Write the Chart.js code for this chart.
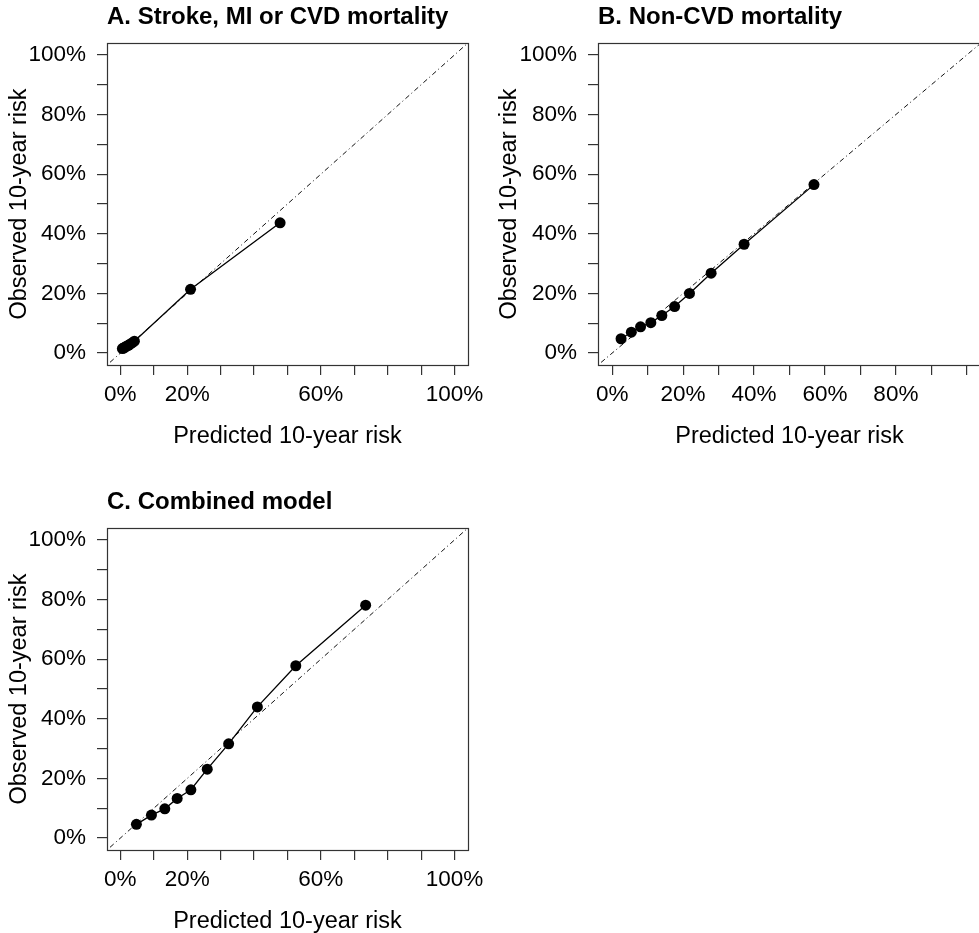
<!DOCTYPE html>
<html>
<head>
<meta charset="utf-8">
<script src="https://cdn.jsdelivr.net/npm/chart.js@4"></script>
<style>
  html, body { margin: 0; padding: 0; background: #fff; width: 979px; height: 933px; overflow: hidden; }
  .panel { position: absolute; }
  canvas { display: block; }
</style>
</head>
<body>
<div class="panel" style="left:0px;top:0px"><canvas id="chartA" width="490" height="470" style="width:490px;height:470px"></canvas></div>
<div class="panel" style="left:490px;top:0px"><canvas id="chartB" width="520" height="470" style="width:520px;height:470px"></canvas></div>
<div class="panel" style="left:0px;top:465px"><canvas id="chartC" width="490" height="470" style="width:490px;height:470px"></canvas></div>
<script>
// Calibration: predicted vs observed 10-year risk (%) by risk decile
const tickValues = [0, 10, 20, 30, 40, 50, 60, 70, 80, 90, 100];
const yLabelled = [0, 20, 40, 60, 80, 100];
const xLabelledAC = [0, 20, 60, 100];
const xLabelledB = [0, 20, 40, 60, 80];
const axisRange = [-4, 104];

const titleA = 'A. Stroke, MI or CVD mortality';
const predictedA = [0.6, 1.0, 1.4, 1.9, 2.4, 2.9, 3.5, 4.2, 21.0, 47.8];
const observedA  = [1.5, 1.7, 2.0, 2.3, 2.6, 3.0, 3.4, 4.0, 21.4, 43.7];

const titleB = 'B. Non-CVD mortality';
const predictedB = [2.5, 5.4, 8.0, 10.9, 14.0, 17.6, 21.8, 27.9, 37.2, 56.9];
const observedB  = [4.8, 7.0, 8.8, 10.2, 12.6, 15.6, 20.0, 26.8, 36.5, 56.5];

const titleC = 'C. Combined model';
const predictedC = [4.8, 9.3, 13.3, 17.0, 21.1, 26.0, 32.4, 41.0, 52.5, 73.4];
const observedC  = [4.6, 7.7, 9.8, 13.3, 16.2, 23.1, 31.6, 44.0, 57.8, 78.1];

const xTitle = 'Predicted 10-year risk';
const yTitle = 'Observed 10-year risk';

const FONT = '"Liberation Sans", Arial, Helvetica, sans-serif';

// Plot frame and bold panel heading
const framePlugin = {
  id: 'panelFrame',
  afterDraw(chart, args, opts) {
    const { ctx, chartArea: a } = chart;
    ctx.save();
    ctx.strokeStyle = '#333';
    ctx.lineWidth = 1.2;
    ctx.strokeRect(Math.round(a.left) + 0.5, Math.round(a.top) + 0.5,
                   Math.round(a.right - a.left), Math.round(a.bottom - a.top));
    ctx.fillStyle = '#000';
    ctx.font = 'bold 24px ' + FONT;
    ctx.textAlign = 'left';
    ctx.textBaseline = 'alphabetic';
    ctx.fillText(opts.text, a.left, a.top - 19);
    ctx.restore();
  }
};

function makePanel(id, title, pred, obs, xLabelled, box) {
  return new Chart(document.getElementById(id), {
    type: 'scatter',
    data: {
      datasets: [
        {
          type: 'line',
          data: axisRange.map(v => ({ x: v, y: v })),
          borderColor: '#111', borderWidth: 1, borderDash: [1, 3, 5, 3],
          pointRadius: 0, fill: false, order: 2
        },
        {
          type: 'line',
          data: pred.map((p, i) => ({ x: p, y: obs[i] })),
          borderColor: '#000', borderWidth: 1.3, tension: 0, fill: false,
          pointRadius: 5.5, pointBackgroundColor: '#000', pointBorderWidth: 0,
          order: 1
        }
      ]
    },
    options: {
      responsive: false,
      animation: false,
      events: [],
      layout: { padding: { left: 0, top: box.top, right: box.right, bottom: box.bottom } },
      plugins: {
        legend: { display: false },
        tooltip: { enabled: false },
        panelFrame: { text: title }
      },
      scales: {
        x: {
          type: 'linear', min: axisRange[0], max: axisRange[1],
          afterBuildTicks: s => { s.ticks = tickValues.map(v => ({ value: v })); },
          afterFit: s => { s.height = 86; },
          ticks: {
            autoSkip: false, maxRotation: 0, minRotation: 0, padding: 6, color: '#000',
            font: { family: FONT, size: 22.5 },
            callback: v => xLabelled.includes(v) ? v + '%' : ''
          },
          grid: { drawOnChartArea: false, drawTicks: true, tickLength: 10, color: '#333', lineWidth: 1.2 },
          border: { display: false },
          title: { display: true, text: xTitle, color: '#000', font: { family: FONT, size: 23.5 }, padding: { top: 0, bottom: 0 } }
        },
        y: {
          type: 'linear', min: axisRange[0], max: axisRange[1],
          afterBuildTicks: s => { s.ticks = tickValues.map(v => ({ value: v })); },
          afterFit: s => { s.width = box.yWidth; },
          ticks: {
            autoSkip: false, padding: 11, color: '#000',
            font: { family: FONT, size: 22.5 },
            callback: v => yLabelled.includes(v) ? v + '%' : ''
          },
          grid: { drawOnChartArea: false, drawTicks: true, tickLength: 10, color: '#333', lineWidth: 1.2 },
          border: { display: false },
          title: { display: true, text: yTitle, color: '#000', font: { family: FONT, size: 23.5 }, padding: { top: 5, bottom: 0 } }
        }
      }
    },
    plugins: [framePlugin]
  });
}

makePanel('chartA', titleA, predictedA, observedA, xLabelledAC, { top: 43, right: 19, bottom: 19, yWidth: 107 });
makePanel('chartB', titleB, predictedB, observedB, xLabelledB,  { top: 43, right: 29, bottom: 19, yWidth: 108 });
makePanel('chartC', titleC, predictedC, observedC, xLabelledAC, { top: 63, right: 19, bottom: -1, yWidth: 107 });
</script>
</body>
</html>
